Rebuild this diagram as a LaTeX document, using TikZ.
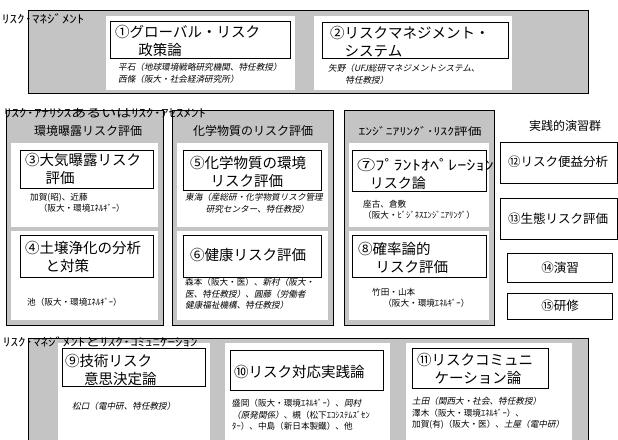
\documentclass[tikz,border=0pt]{standalone}
\usepackage{fontspec}
\newfontfamily\jp{Noto Sans CJK JP}
\newfontfamily\jpw[FakeStretch=1.3]{Noto Sans CJK JP}
\newfontfamily\jpsl[FakeSlant=0.2]{Noto Sans CJK JP}
\definecolor{grpfill}{RGB}{196,196,196}
\tikzset{
  grp/.style={draw=black, line width=0.8pt, fill=grpfill},
  panel/.style={fill=white, draw=none},
  tbox/.style={draw=black, line width=0.7pt, fill=white},
  ttl/.style={font=\jp\fontsize{14.5}{18}\selectfont, align=left, anchor=west, inner sep=0pt},
  ttlw/.style={font=\jpw\fontsize{14}{18}\selectfont, align=left, anchor=west, inner sep=0pt},
  sm/.style={font=\jp\fontsize{8.6}{11.5}\selectfont, align=left, anchor=north west, inner sep=0pt},
  smsl/.style={font=\jpsl\fontsize{8.6}{11.5}\selectfont, align=left, anchor=north west, inner sep=0pt},
  hdr/.style={font=\jp\fontsize{12}{14}\selectfont, inner sep=0pt},
  lbl/.style={font=\jpw\fontsize{11.5}{14}\selectfont, anchor=west, inner sep=0pt},
  rbox/.style={font=\jp\fontsize{12.5}{15}\selectfont, inner sep=0pt}
}
\begin{document}
\begin{tikzpicture}[x=1pt,y=-1pt]
\useasboundingbox (0,0) rectangle (618,439);
\begin{scope}
\clip (0,0) rectangle (618,439);
% ---------------- top group
\path[grp] (28,10) rectangle (588,93);
\path[panel] (106,16) rectangle (295,90);
\path[panel] (314,16) rectangle (512,90);
\path[tbox] (110,21) rectangle (290,58);
\path[tbox] (322,22) rectangle (508,58);
\node[lbl] (lblA) at (2,19) {ﾘｽｸ･ﾏﾈｼﾞﾒﾝﾄ};
\node[ttl] (t1) at (115,41) {①グローバル・リスク\\\hspace*{1.6em}政策論};
\node[smsl] (n1) at (118,63) {平石（地球環境戦略研究機関、特任教授）\\西條（阪大・社会経済研究所）};
\node[ttl] (t2) at (330,42) {②リスクマネジメント・\\\hspace*{1em}システム};
\node[smsl] (n2) at (328,64) {矢野（UFJ総研マネジメントシステム、\\\hspace*{2em}特任教授）};
% ---------------- middle groups
\path[grp] (6,110) rectangle (163,325);
\path[grp] (172,110) rectangle (333,325);
\path[grp] (344,110) rectangle (494,325);
\path[panel] (11,143) rectangle (158,227);
\path[panel] (11,231) rectangle (158,320);
\path[panel] (177,143) rectangle (328,227);
\path[panel] (177,231) rectangle (328,320);
\path[panel] (349,143) rectangle (489,227);
\path[panel] (349,231) rectangle (489,320);
\node[lbl] (lblB) at (4,113) {ﾘｽｸ･ｱﾅﾘｼｽあるいはﾘｽｸ･ｱｾｽﾒﾝﾄ};
\node[hdr] (hd1) at (88,131) {環境曝露リスク評価};
\node[hdr] (hd2) at (253,131) {化学物質のリスク評価};
\node[hdr, font=\jpw\fontsize{10.5}{14}\selectfont] (hd3) at (420,131) {ｴﾝｼﾞﾆｱﾘﾝｸﾞ･ﾘｽｸ評価};
% title boxes
\path[tbox] (20,150) rectangle (153,188);
\path[tbox] (20,235) rectangle (153,277);
\path[tbox] (183,150) rectangle (321,190);
\path[tbox] (183,235) rectangle (321,277);
\path[tbox] (352,150) rectangle (486,191);
\path[tbox] (352,235) rectangle (486,277);
\node[ttl] (t3) at (25,169) {③大気曝露リスク\\\hspace*{1.4em}評価};
\node[ttl] (t4) at (25,257) {④土壌浄化の分析\\\hspace*{1.4em}と対策};
\node[ttl] (t5) at (190,172) {⑤化学物質の環境\\\hspace*{1.4em}リスク評価};
\node[ttl] (t6) at (190,255) {⑥健康リスク評価};
\node[ttlw] (t7) at (357,174) {⑦ﾌﾟﾗﾝﾄｵﾍﾟﾚｰｼｮﾝ\\\hspace*{0.9em}{\jp リスク論}};
\node[ttl] (t8) at (358,258) {⑧確率論的\\\hspace*{1.2em}リスク評価};
\node[sm] (n3) at (30,193) {加賀(昭)、近藤\\\hspace*{1em}（阪大・環境ｴﾈﾙｷﾞｰ）};
\node[sm] (n4) at (27,298) {池（阪大・環境ｴﾈﾙｷﾞｰ）};
\node[smsl] (n5) at (185,193) {東海（産総研・化学物質リスク管理\\\hspace*{2.4em}研究センター、特任教授）};
\node[sm] (n6) at (185,278) {森本（阪大・医）、{\jpsl 新村（阪大・}\\{\jpsl 医、特任教授）、圓藤（労働者}\\{\jpsl 健康福祉機構、特任教授）}};
\node[sm] (n7) at (363,200) {座古、倉敷\\（阪大・ﾋﾞｼﾞﾈｽｴﾝｼﾞﾆｱﾘﾝｸﾞ）};
\node[sm] (n8) at (372,288) {竹田・山本\\\hspace*{1.3em}（阪大・環境ｴﾈﾙｷﾞｰ）};
% ---------------- right column
\node[hdr] (hdR) at (565,126) {実践的演習群};
\path[tbox] (500,142) rectangle (617,183);
\path[tbox] (500,198) rectangle (617,239);
\path[tbox] (507,253) rectangle (612,282);
\path[tbox] (507,293) rectangle (612,319);
\node[rbox] (t12) at (558,162) {⑫リスク便益分析};
\node[rbox] (t13) at (558,219) {⑬生態リスク評価};
\node[rbox] (t14) at (560,268) {⑭演習};
\node[rbox] (t15) at (560,306) {⑮研修};
% ---------------- bottom group
\path[grp] (28,338) rectangle (588,450);
\path[panel] (58,343) rectangle (210,450);
\path[panel] (225,343) rectangle (390,450);
\path[panel] (406,343) rectangle (572,450);
\node[lbl] (lblC) at (3,342) {ﾘｽｸ･ﾏﾈｼﾞﾒﾝﾄとﾘｽｸ･ｺﾐｭﾆｹｰｼｮﾝ};
\path[tbox] (62,348) rectangle (205,386);
\path[tbox] (230,350) rectangle (383,390);
\path[tbox] (412,348) rectangle (548,388);
\node[ttl] (t9) at (65,370) {⑨技術リスク\\\hspace*{1.3em}意思決定論};
\node[ttl] (t10) at (234,372) {⑩リスク対応実践論};
\node[ttl] (t11) at (417,369) {⑪リスクコミュニ\\\hspace*{1.2em}ケーション論};
\node[smsl] (n9) at (72,402) {松口（電中研、特任教授）};
\node[sm] (n10) at (232,399) {盛岡（阪大・環境ｴﾈﾙｷﾞｰ）、{\jpsl 岡村}\\{\jpsl （原発関係）}、槻（松下ｴｺｼｽﾃﾑｽﾞｾﾝ\\ﾀｰ）、中島（新日本製鐵）、他};
\node[sm] (n11) at (412,397) {{\jpsl 土田（関西大・社会、特任教授）}\\澤木（阪大・環境ｴﾈﾙｷﾞｰ）、\\加賀(有)（阪大・医）、{\jpsl 土屋（電中研）}};
\end{scope}
\end{tikzpicture}
\end{document}
